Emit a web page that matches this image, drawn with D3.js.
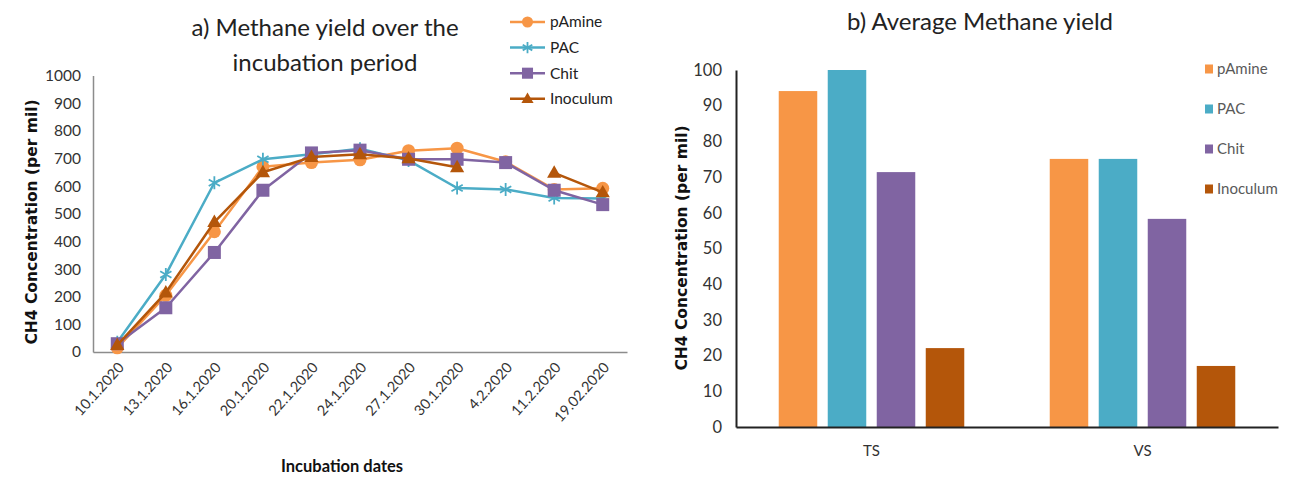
<!DOCTYPE html>
<html><head><meta charset="utf-8">
<script src="https://cdnjs.cloudflare.com/ajax/libs/d3/7.8.5/d3.min.js"></script>
<style>
html,body{margin:0;padding:0;background:#fff;}
svg{display:block;font-family:Lato,"Open Sans",sans-serif;}
</style></head>
<body>
<svg id="chart" width="1296" height="477"></svg>
<script>
// ---------- Data ----------
const dates = ["10.1.2020","13.1.2020","16.1.2020","20.1.2020","22.1.2020","24.1.2020","27.1.2020","30.1.2020","4.2.2020","11.2.2020","19.02.2020"];
const seriesNames = ["pAmine","PAC","Chit","Inoculum"];
const seriesColors = ["#F79646","#4BACC6","#8064A2","#B4560A"];
const pAmine   = [15, 205, 435, 670, 685, 695, 728, 737, 688, 588, 592];
const PAC      = [35, 280, 612, 697, 715, 735, 693, 593, 588, 557, 555];
const Chit     = [30, 160, 360, 585, 720, 730, 697, 697, 685, 585, 533];
const Inoculum = [25, 215, 470, 650, 705, 715, 700, 668, null, 648, 577];
const yTicksA = [0,100,200,300,400,500,600,700,800,900,1000];

const groups = ["TS","VS"];
const avgTS = [94.1, 100, 71.4, 22.1];
const avgVS = [75.1, 75.1, 58.3, 17.1];
const yTicksB = [0,10,20,30,40,50,60,70,80,90,100];

const svg = d3.select("#chart");
const TXT = "Lato, 'Open Sans', sans-serif";
const BOLD = "'DejaVu Sans', sans-serif";

// ---------- Chart a ----------
const xA = d3.scalePoint().domain(dates).range([93, 627]).padding(0.5);
const yA = d3.scaleLinear().domain([0, 1000]).range([352, 75.5]);
const gA = svg.append("g");

const axL = d3.axisLeft(yA).tickValues(yTicksA).tickSize(0).tickPadding(12).tickFormat(d3.format("d"));
const gyA = gA.append("g").attr("transform","translate(93,0)").call(axL);
gyA.select(".domain").attr("stroke","#8c8c8c").attr("stroke-width",1.5);
gyA.selectAll("text").style("font-size","15.5px").attr("fill","#333").style("font-family",TXT);

const axB = d3.axisBottom(xA).tickSize(0).tickFormat(d=>d);
const gxA = gA.append("g").attr("transform","translate(0,352)").call(axB);
gxA.select(".domain").attr("stroke","#8c8c8c").attr("stroke-width",1.5);
gxA.selectAll("text").style("font-size","14.5px").style("font-family",TXT).attr("fill","#333")
  .attr("text-anchor","end").attr("dy",0).attr("y",0)
  .attr("transform","translate(7,16) rotate(-48)");

const dataA = [pAmine, PAC, Chit, Inoculum];
const line = d3.line().defined(d=>d.v!=null).x(d=>xA(d.d)).y(d=>yA(d.v));

function marker(sel, i, color, s){
  if(i===0){ sel.append("circle").attr("r",6.5*s).attr("fill",color); }
  else if(i===1){
    const r=6.5*s, c=r*0.866, h=r*0.5;
    sel.append("path").attr("d",`M0,${-r}L0,${r}M${-c},${-h}L${c},${h}M${-c},${h}L${c},${-h}`)
      .attr("stroke",color).attr("stroke-width",1.8).attr("fill","none");
  }
  else if(i===2){ sel.append("rect").attr("x",-6.5*s).attr("y",-6.5*s).attr("width",13*s).attr("height",13*s).attr("fill",color); }
  else { const r=7.5*s; sel.append("path").attr("d",`M0,${-r}L${r*0.95},${r*0.65}L${-r*0.95},${r*0.65}Z`).attr("fill",color); }
}

dataA.forEach((vals,i)=>{
  const pts = dates.map((d,j)=>({d, v:vals[j]}));
  gA.append("path").datum(pts).attr("d",line).attr("fill","none")
    .attr("stroke",seriesColors[i]).attr("stroke-width",2.5).attr("stroke-linejoin","round");
  pts.filter(p=>p.v!=null).forEach(p=>{
    const m = gA.append("g").attr("transform",`translate(${xA(p.d)},${yA(p.v)})`);
    marker(m,i,seriesColors[i],1);
  });
});

// titles
gA.append("text").attr("x",325).attr("y",36).attr("text-anchor","middle").style("font-size","24px").attr("fill","#222").text("a) Methane yield over the");
gA.append("text").attr("x",325).attr("y",71).attr("text-anchor","middle").style("font-size","24px").attr("fill","#222").text("incubation period");
gA.append("text").attr("transform","translate(37,222) rotate(-90)").attr("text-anchor","middle")
  .style("font-size","15.5px").style("font-weight","bold").style("font-family",BOLD).attr("fill","#111")
  .text("CH4 Concentration  (per mil)");
gA.append("text").attr("x",342).attr("y",472).attr("text-anchor","middle").style("font-size","16.5px").style("font-weight","bold").attr("fill","#111").text("Incubation dates");

// legend a
seriesNames.forEach((n,i)=>{
  const y = 22 + i*25.6;
  const lg = gA.append("g").attr("transform",`translate(510,${y})`);
  lg.append("line").attr("x1",0).attr("x2",35).attr("y1",0).attr("y2",0).attr("stroke",seriesColors[i]).attr("stroke-width",2.5);
  const m = lg.append("g").attr("transform","translate(17.5,0)");
  marker(m,i,seriesColors[i],0.85);
  lg.append("text").attr("x",40).attr("y",0).attr("dy","0.35em").style("font-size","15.5px").attr("fill","#222").text(n);
});

// ---------- Chart b ----------
const xB = d3.scaleBand().domain(groups).range([736, 1278]);
const xInner = d3.scaleBand().domain(seriesNames).range([0, xB.bandwidth()]).paddingInner(0.214).paddingOuter(0.872);
const yB = d3.scaleLinear().domain([0, 100]).range([427, 70]);
const gB = svg.append("g");

const avg = {TS: avgTS, VS: avgVS};
groups.forEach(g=>{
  seriesNames.forEach((s,i)=>{
    gB.append("rect").attr("x", xB(g)+xInner(s)).attr("y", yB(avg[g][i]))
      .attr("width", xInner.bandwidth()).attr("height", yB(0)-yB(avg[g][i]))
      .attr("fill", seriesColors[i]);
  });
});

const gyB = gB.append("g").attr("transform","translate(736,0)")
  .call(d3.axisLeft(yB).tickValues(yTicksB).tickSize(0).tickPadding(14));
gyB.select(".domain").attr("stroke","#222").attr("stroke-width",2);
gyB.selectAll("text").style("font-size","16.5px").attr("fill","#333").style("font-family",TXT);

const gxB = gB.append("g").attr("transform","translate(0,427)")
  .call(d3.axisBottom(xB).tickSize(0).tickPadding(18));
gxB.select(".domain").attr("stroke","#222").attr("stroke-width",2);
gxB.selectAll("text").style("font-size","15px").attr("fill","#333").style("font-family",TXT);

gB.append("text").attr("x",980).attr("y",30).attr("text-anchor","middle").style("font-size","24px").attr("fill","#222").text("b) Average Methane yield");
gB.append("text").attr("transform","translate(687,248) rotate(-90)").attr("text-anchor","middle")
  .style("font-size","15.5px").style("font-weight","bold").style("font-family",BOLD).attr("fill","#111")
  .text("CH4 Concentration  (per mil)");

seriesNames.forEach((n,i)=>{
  const y = 69 + i*40;
  gB.append("rect").attr("x",1205).attr("y",y-4.5).attr("width",8).attr("height",9).attr("fill",seriesColors[i]);
  gB.append("text").attr("x",1217).attr("y",y).attr("dy","0.35em").style("font-size","15px").attr("fill","#595959").text(n);
});
</script>
</body></html>
